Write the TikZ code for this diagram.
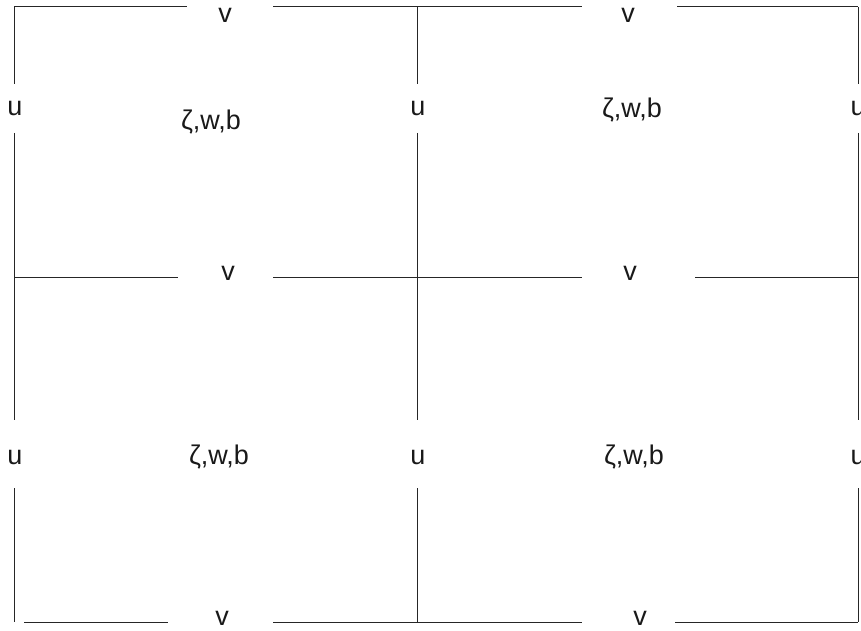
\documentclass[tikz,border=0pt]{standalone}
\usepackage{fontspec}
\setmainfont{Liberation Sans}
\begin{document}
\begin{tikzpicture}[x=1pt,y=-1pt,
  grid/.style={line width=1pt,draw=black!85},
  lab/.style={font=\fontsize{27}{30}\selectfont,inner sep=0pt,text=black!90}]
\useasboundingbox (0,0) rectangle (861,631);
% labels
\node[lab] (v1) at (225,15) {v};
\node[lab] (v2) at (628,15) {v};
\node[lab] (v3) at (228,273) {v};
\node[lab] (v4) at (630,273) {v};
\node[lab] (v5) at (222,618) {v};
\node[lab] (v6) at (640,618) {v};
\node[lab] (u1) at (15,109) {u};
\node[lab] (u2) at (418,109) {u};
\node[lab] (u3) at (858,109) {u};
\node[lab] (u4) at (15,457) {u};
\node[lab] (u5) at (418,457) {u};
\node[lab] (u6) at (858,457) {u};
\node[lab] (z1) at (211,122) {ζ,w,b};
\node[lab] (z2) at (632,110) {ζ,w,b};
\node[lab] (z3) at (219,457) {ζ,w,b};
\node[lab] (z4) at (634,457) {ζ,w,b};
% horizontal lines
\draw[grid] (14,7) -- (187,7);
\draw[grid] (273,7) -- (582,7);
\draw[grid] (677,7) -- (858,7);
\draw[grid] (14,277) -- (178,277);
\draw[grid] (273,277) -- (582,277);
\draw[grid] (695,277) -- (858,277);
\draw[grid] (24,622) -- (168,622);
\draw[grid] (273,622) -- (582,622);
\draw[grid] (675,622) -- (858,622);
% vertical lines
\foreach \x in {14,417,858}{
  \draw[grid] (\x,7) -- (\x,84);
  \draw[grid] (\x,133) -- (\x,420);
  \draw[grid] (\x,488) -- (\x,622);
}
\end{tikzpicture}
\end{document}
